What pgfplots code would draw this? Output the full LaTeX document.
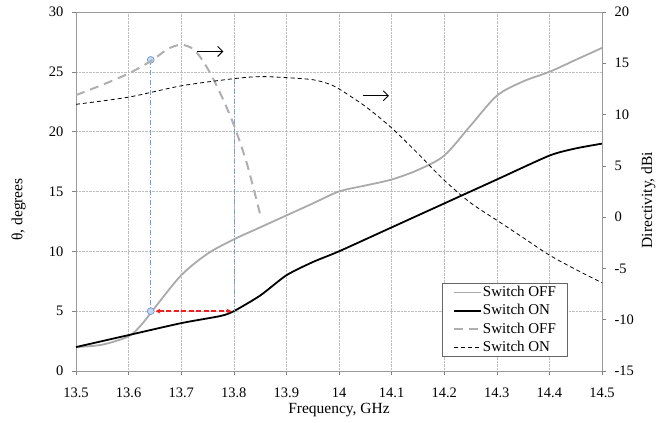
\documentclass[border=0pt]{standalone}
\usepackage{fontspec}
\setmainfont{Liberation Serif}
\usepackage{pgfplots}
\pgfplotsset{compat=1.18}
\usetikzlibrary{arrows.meta}

\definecolor{offgray}{RGB}{170,170,170}
\definecolor{dashgray}{RGB}{175,175,175}
\definecolor{gridgray}{RGB}{190,190,190}
\definecolor{markblue}{RGB}{120,160,215}
\definecolor{markfill}{RGB}{200,215,240}
\definecolor{arrowred}{RGB}{240,30,30}

\pgfplotsset{
  common/.style={
    scale only axis, width=526pt, height=359pt,
    xmin=13.5, xmax=14.5,
    tick align=outside,
    major tick length=4pt,
    tick style={gray, line width=0.6pt},
    axis line style={gray!80, line width=0.8pt},
    tick label style={font=\fontsize{14.5}{16}\selectfont},
    label style={font=\fontsize{15.5}{17}\selectfont},
    /pgf/number format/assume math mode=true,
  },
}

\begin{document}
\begin{tikzpicture}
\begin{axis}[common,
    ymin=0, ymax=30, ytick={0,5,...,30},
    xtick={13.5,13.6,...,14.55},
    xtick pos=bottom, ytick pos=left,
    xticklabel style={yshift=-9pt},
    yticklabel style={xshift=-5pt},
    grid=major,
    grid style={gridgray, densely dotted, line width=0.6pt},
    xlabel={Frequency, GHz},
    ylabel={θ, degrees},
    xlabel style={at={(axis description cs:0.5,-0.11)}, anchor=center},
    ylabel style={at={(axis description cs:-0.089,0.45)}, anchor=south},
    legend style={at={(rel axis cs:0.696,0.245)}, anchor=north west,
      nodes={font=\fontsize{15}{16}\selectfont, inner sep=0.5pt,
        text height=11pt, text depth=3pt},
      draw=black!60, line width=0.8pt,
      inner xsep=11pt, inner ysep=1.5pt, row sep=3.3pt},
    legend cell align=left,
    legend image code/.code={\draw[#1] (0pt,0pt) -- (27pt,0pt);},
  ]
% Switch OFF, theta
\addplot[offgray, line width=1.8pt, smooth, tension=0.5] coordinates {
  (13.5,2.0) (13.55,2.2) (13.6,2.9) (13.625,3.9) (13.65,5.3) (13.7,8.0)
  (13.75,9.8) (13.8,11.0) (13.85,12.0) (13.9,13.0) (13.95,14.0) (14.0,15.0)
  (14.05,15.5) (14.1,16.0) (14.15,16.8) (14.2,18.0) (14.25,20.5) (14.3,23.0)
  (14.35,24.2) (14.4,25.0) (14.45,26.0) (14.5,27.0)
};
\addlegendentry{Switch OFF}
% Switch ON, theta
\addplot[black, line width=1.8pt, smooth, tension=0.4] coordinates {
  (13.5,2.0) (13.6,3.0) (13.7,4.0) (13.775,4.6) (13.8,5.0) (13.85,6.3)
  (13.9,8.0) (13.95,9.1) (14.0,10.0) (14.1,12.0) (14.2,14.0) (14.3,16.0)
  (14.4,18.0) (14.45,18.6) (14.5,19.0)
};
\addlegendentry{Switch ON}
\addlegendimage{dashgray, line width=2pt, dash pattern=on 9pt off 6pt}
\addlegendentry{Switch OFF}
\addlegendimage{black, line width=0.8pt, dash pattern=on 4pt off 3pt}
\addlegendentry{Switch ON}
% annotation lines
\addplot[markblue, line width=0.6pt, dash pattern=on 5pt off 2pt on 1pt off 2pt] coordinates {(13.642,26) (13.642,5)};
\addplot[markblue, line width=0.6pt, dash pattern=on 5pt off 2pt on 1pt off 2pt] coordinates {(13.8,24.4) (13.8,5)};
\addplot[arrowred, line width=1.5pt, dash pattern=on 5pt off 2.5pt, {Stealth[length=5pt,width=5pt]}-{Stealth[length=5pt,width=5pt]}] coordinates {(13.651,5) (13.796,5)};
\addplot[only marks, mark=*, mark size=3.4pt, mark options={fill=markfill, draw=markblue, line width=0.8pt}] coordinates {(13.642,26) (13.642,5)};
\addplot[black, line width=0.9pt, -{Straight Barb[length=5pt]}] coordinates {(13.73,26.7) (13.78,26.7)};
\addplot[black, line width=0.9pt, -{Straight Barb[length=5pt]}] coordinates {(14.045,23.0) (14.095,23.0)};
\end{axis}

\begin{axis}[common,
    ymin=-15, ymax=20, ytick={-15,-10,...,20},
    axis y line*=right, axis x line=none,
    yticklabel style={xshift=5pt},
    ylabel={Directivity, dBi},
    ylabel style={at={(axis description cs:1.068,0.476)}, anchor=north, rotate=0},
  ]
% Switch OFF, directivity
\addplot[dashgray, line width=2pt, dash pattern=on 9pt off 6pt, smooth, tension=0.5] coordinates {
  (13.5,11.9) (13.55,12.9) (13.6,14.0) (13.642,15.2) (13.675,16.4) (13.7,16.8)
  (13.725,16.3) (13.75,14.5) (13.775,12.0) (13.8,9.0) (13.825,5.2) (13.85,0.3)
};
% Switch ON, directivity
\addplot[black, line width=0.8pt, dash pattern=on 4pt off 3pt, smooth, tension=0.5] coordinates {
  (13.5,11.0) (13.6,11.7) (13.7,12.8) (13.8,13.5) (13.85,13.7) (13.9,13.6)
  (13.95,13.4) (13.98,13.0) (14.0,12.5) (14.05,10.8) (14.1,8.7) (14.15,6.2)
  (14.2,3.6) (14.25,1.4) (14.3,-0.3) (14.35,-2.0) (14.4,-3.7) (14.45,-5.1) (14.5,-6.4)
};
\end{axis}
\pgfresetboundingbox
\path (-76pt,-52pt) rectangle (596pt,371pt);
\end{tikzpicture}
\end{document}
